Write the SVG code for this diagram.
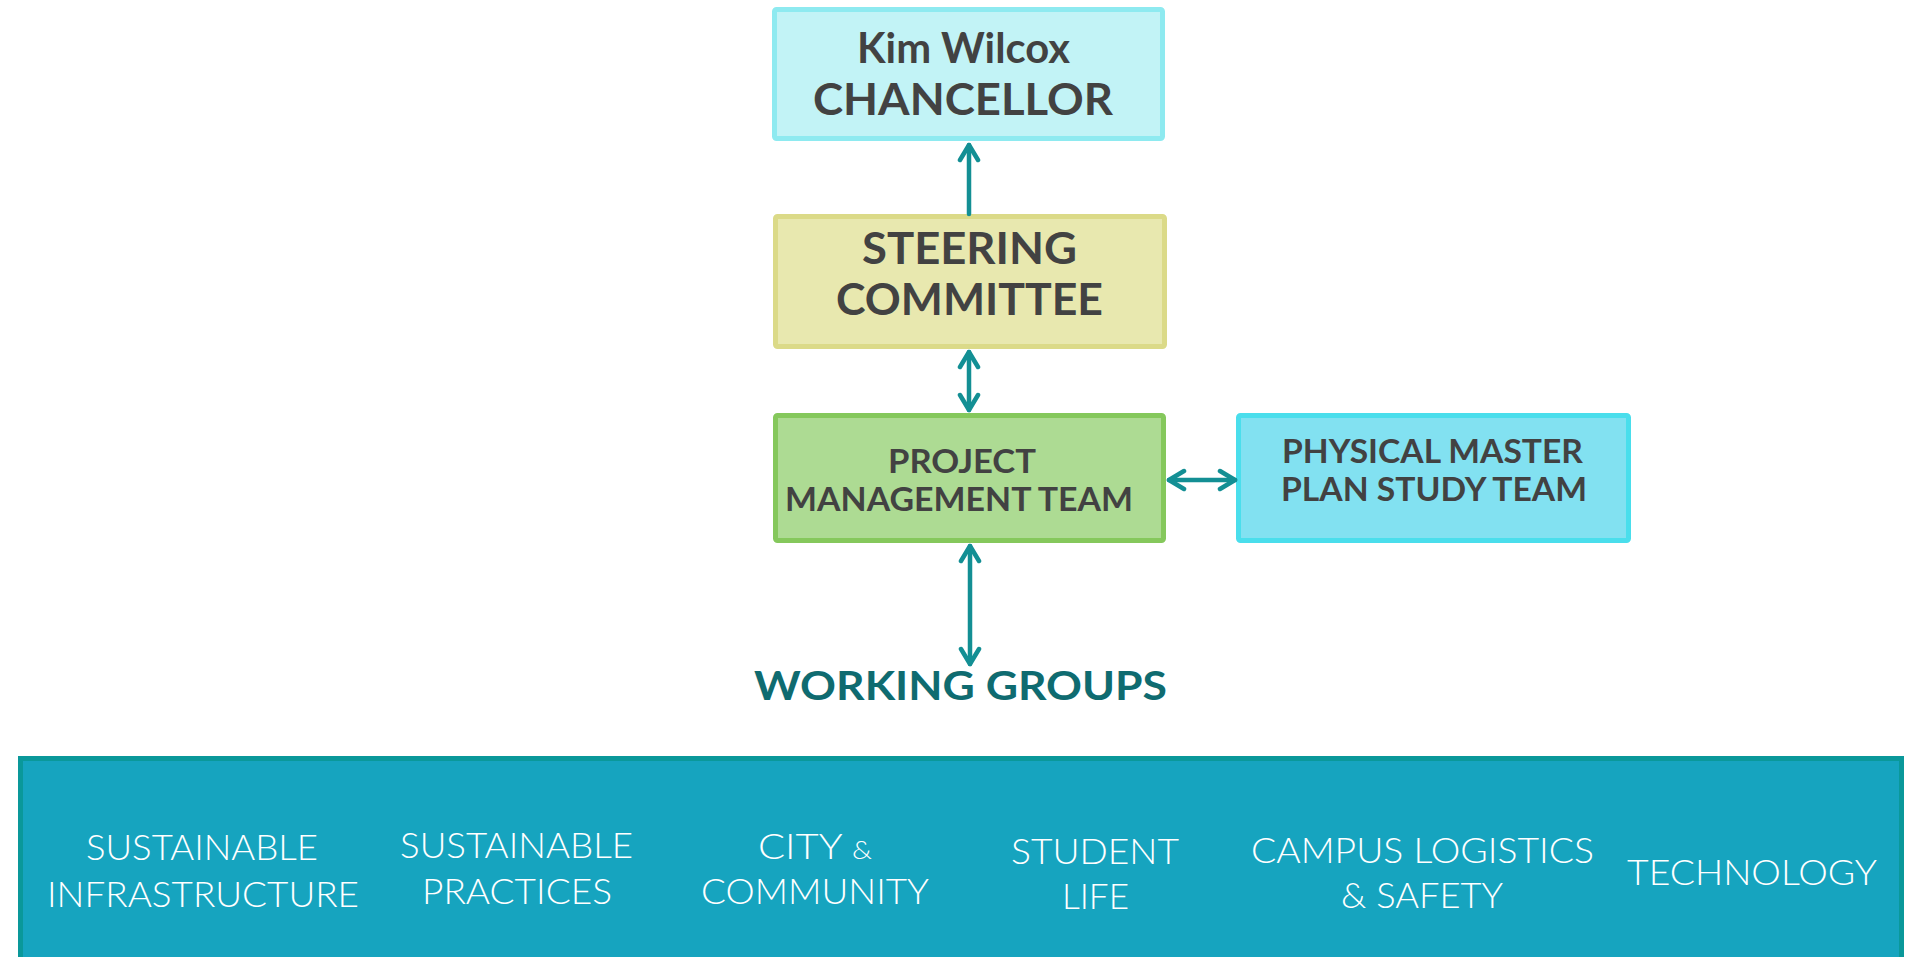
<svg xmlns="http://www.w3.org/2000/svg" width="1920" height="957" viewBox="0 0 1920 957">
<style>
.box{stroke-width:5}
.hd{font-family:Lato,"Open Sans","Liberation Sans",sans-serif;font-weight:700;fill:#424242;text-anchor:middle}
.wg{font-family:Lato,"Open Sans","Liberation Sans",sans-serif;font-weight:300;fill:#ffffff;text-anchor:middle;font-size:35px}
.con{stroke:#138F94;stroke-width:4.5;fill:none;stroke-linecap:round}
</style>
<defs>
<marker id="ah" markerUnits="userSpaceOnUse" viewBox="-20 -12 24 24" refX="0" refY="0" markerWidth="24" markerHeight="24" orient="auto-start-reverse">
<path d="M-15,-9 L0,0 L-15,9" fill="none" stroke="#138F94" stroke-width="4.5" stroke-linecap="round" stroke-linejoin="round"/>
</marker>
</defs>
<rect width="1920" height="957" fill="#ffffff"/>
<g id="chancellor">
<rect class="box" x="774.5" y="9.5" width="388" height="129" rx="2" fill="#C2F3F6" stroke="#8EEAF0"/>
<text class="hd" x="963.5" y="63" font-size="42" textLength="213" lengthAdjust="spacingAndGlyphs">Kim Wilcox</text>
<text class="hd" x="963" y="115" font-size="44" textLength="300" lengthAdjust="spacingAndGlyphs">CHANCELLOR</text>
</g>
<g id="steering">
<rect class="box" x="775.5" y="216.5" width="389" height="130" rx="2" fill="#E8E8AF" stroke="#DBDA88"/>
<text class="hd" x="969.5" y="264" font-size="44" textLength="215" lengthAdjust="spacingAndGlyphs">STEERING</text>
<text class="hd" x="969.5" y="315" font-size="44" textLength="267" lengthAdjust="spacingAndGlyphs">COMMITTEE</text>
</g>
<g id="pmt">
<rect class="box" x="775.5" y="415.5" width="388" height="125" rx="2" fill="#ADDB93" stroke="#85C85C"/>
<text class="hd" x="962" y="473" font-size="33" textLength="148" lengthAdjust="spacingAndGlyphs">PROJECT</text>
<text class="hd" x="959" y="511" font-size="33" textLength="348" lengthAdjust="spacingAndGlyphs">MANAGEMENT TEAM</text>
</g>
<g id="pmst">
<rect class="box" x="1238.5" y="415.5" width="390" height="125" rx="2" fill="#82E1F1" stroke="#4ADEEC"/>
<text class="hd" x="1432.5" y="463" font-size="33" textLength="301" lengthAdjust="spacingAndGlyphs">PHYSICAL MASTER</text>
<text class="hd" x="1434" y="501" font-size="33" textLength="306" lengthAdjust="spacingAndGlyphs">PLAN STUDY TEAM</text>
</g>
<g id="working-groups-title">
<text x="960.5" y="700" font-family="Lato,'Open Sans','Liberation Sans',sans-serif" font-weight="700" font-size="40" fill="#0F6B70" text-anchor="middle" textLength="413" lengthAdjust="spacingAndGlyphs">WORKING GROUPS</text>
</g>
<g id="working-groups">
<rect x="20.5" y="758.5" width="1881" height="215" fill="#16A4BF" stroke="#0A989A" stroke-width="5"/>
<text class="wg" x="202" y="860" textLength="232" lengthAdjust="spacingAndGlyphs">SUSTAINABLE</text>
<text class="wg" x="203" y="907" textLength="312" lengthAdjust="spacingAndGlyphs">INFRASTRUCTURE</text>
<text class="wg" x="516.5" y="858" textLength="233" lengthAdjust="spacingAndGlyphs">SUSTAINABLE</text>
<text class="wg" x="517" y="904" textLength="190" lengthAdjust="spacingAndGlyphs">PRACTICES</text>
<text class="wg" x="815" y="859" textLength="114" lengthAdjust="spacingAndGlyphs">CITY <tspan font-size="25">&amp;</tspan></text>
<text class="wg" x="815" y="904" textLength="228" lengthAdjust="spacingAndGlyphs">COMMUNITY</text>
<text class="wg" x="1095" y="864" textLength="168" lengthAdjust="spacingAndGlyphs">STUDENT</text>
<text class="wg" x="1095.5" y="909" textLength="67" lengthAdjust="spacingAndGlyphs">LIFE</text>
<text class="wg" x="1422.5" y="863" textLength="343" lengthAdjust="spacingAndGlyphs">CAMPUS LOGISTICS</text>
<text class="wg" x="1422" y="908" textLength="162" lengthAdjust="spacingAndGlyphs">&amp; SAFETY</text>
<text class="wg" x="1752" y="885" textLength="250" lengthAdjust="spacingAndGlyphs">TECHNOLOGY</text>
</g>
<g id="connectors">
<line class="con" x1="969" y1="214" x2="969" y2="145" marker-end="url(#ah)"/>
<line class="con" x1="969" y1="352" x2="969" y2="410" marker-start="url(#ah)" marker-end="url(#ah)"/>
<line class="con" x1="1169" y1="480" x2="1235" y2="480" marker-start="url(#ah)" marker-end="url(#ah)"/>
<line class="con" x1="970" y1="546" x2="970" y2="664" marker-start="url(#ah)" marker-end="url(#ah)"/>
</g>
</svg>
